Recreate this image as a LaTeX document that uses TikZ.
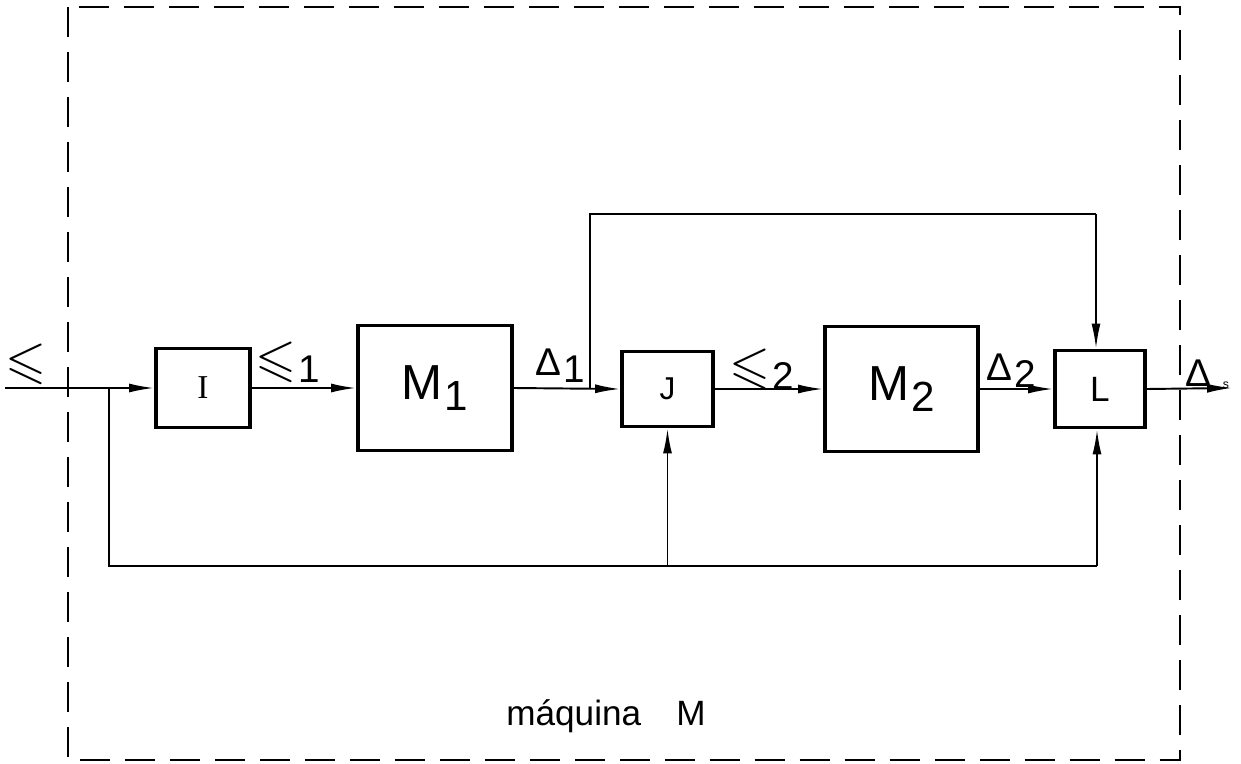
\documentclass[tikz,border=0pt]{standalone}
\usepackage{amsmath,amssymb}
\usepackage{fontspec}
\setmainfont{Liberation Sans}
\newfontfamily\serifI{Liberation Serif}
\usetikzlibrary{arrows.meta,positioning}
\newcommand{\lsub}[2]{#1\kern1pt\raisebox{-4pt}{#2}}
\newcommand{\epsg}{{\fontsize{30}{30}\selectfont$\leqslant$}}

\begin{document}
\begin{tikzpicture}[x=0.02cm, y=-0.02cm,
  blk/.style={draw, line width=2.2pt, inner sep=0pt},
  sig/.style={draw, line width=1.1pt, -{Latex[length=0.5cm,width=0.18cm]}},
  wire/.style={draw, line width=1.1pt},
  lbl/.style={inner sep=0pt, font=\fontsize{22}{22}\selectfont},
  big/.style={font=\fontsize{28}{28}\selectfont}
]
  \useasboundingbox (0,0) rectangle (1241,764);
  \draw[line width=1.6pt, dash pattern=on 0.6cm off 0.3cm] (68,7) rectangle (1180,760);

  \node[blk, minimum width=1.88cm, minimum height=1.58cm,
        font=\serifI\fontsize{19}{19}\selectfont] (I)  at (203,388)   {I};
  \node[blk, big, minimum width=3.08cm, minimum height=2.5cm]  (M1) at (435,388)   {\lsub{M}{\fontsize{24}{24}\selectfont\raisebox{-2pt}{1}}};
  \node[blk, minimum width=1.82cm, minimum height=1.5cm,
        font=\fontsize{18}{18}\selectfont]                      (J)  at (667.5,389) {J};
  \node[blk, big, minimum width=3.06cm, minimum height=2.5cm]  (M2) at (901.5,389) {\lsub{M}{\fontsize{24}{24}\selectfont\raisebox{-2pt}{2}}};
  \node[blk, minimum width=1.8cm, minimum height=1.54cm,
        font=\fontsize{20}{20}\selectfont]                      (L)  at (1100,389)  {L};

  \coordinate (in)   at (5,388);
  \coordinate (fbL)  at (109,388);
  \coordinate (tap1) at (590,388);
  \coordinate (topR) at (1096,214);
  \coordinate (botR) at (1097,566);
  \coordinate (out)  at (1232,388);

  \draw[sig] (in) -- (I.west);
  \draw[sig] (I.east) -- (M1.west);
  \draw[sig] (M1.east) -- (J.west);
  \draw[sig] (J.east) -- (M2.west);
  \draw[sig] (M2.east) -- (L.west);
  \draw[sig] (L.east) -- (out);

  \draw[wire] (tap1) |- (topR);
  \draw[sig]  (topR) -- (topR |- L.north);
  \draw[wire] (fbL) |- (botR);
  \draw[sig]  (botR) -- (botR |- L.south);
  \draw[sig]  (J.south |- botR) -- (J.south);

  \node[lbl] (sIn)  at (26,364)   {\epsg};
  \node[lbl] (sE1)  at (288,362)  {\lsub{\epsg}{1}};
  \node[lbl] (sD1)  at (560,366)  {\lsub{Δ}{1}};
  \node[lbl] (sE2)  at (762,369)  {\lsub{\epsg}{2}};
  \node[lbl] (sD2)  at (1011,371) {\lsub{Δ}{2}};
  \node[lbl] (sOut) at (1198,373) {Δ};
  \node[inner sep=0pt, font=\fontsize{7}{7}\selectfont] (sOutS) at (1226,385) {s};

  \node[font=\fontsize{20}{20}\selectfont, inner sep=0pt] (mach) at (606,716) {máquina\quad M};
\end{tikzpicture}
\end{document}
